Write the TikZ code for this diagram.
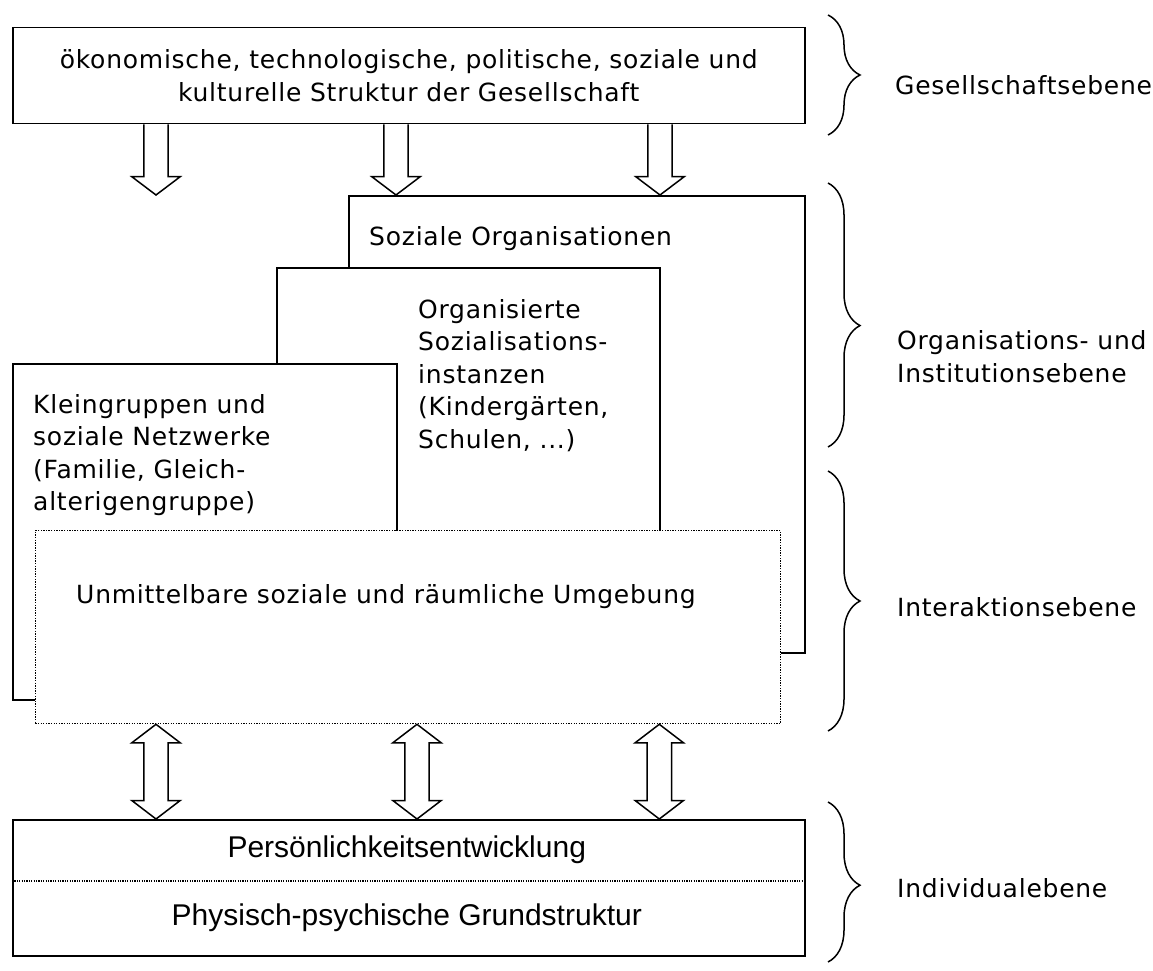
\documentclass[tikz,border=0pt]{standalone}
\usepackage{fontspec}
\setmainfont{DejaVu Sans}[LetterSpace=3]
\newfontfamily\arialfont{Liberation Sans}
\usetikzlibrary{calc,decorations.pathreplacing}
\tikzset{
	box/.style={draw,line width=1.5pt,fill=white,inner sep=0pt,anchor=north west},
	dotbox/.style={draw,line width=1.3pt,dash pattern=on 1.3pt off 1.3pt,fill=white,inner sep=0pt,anchor=north west},
	dotline/.style={line width=1.2pt,dash pattern=on 1.2pt off 1.2pt},
	txt/.style={inner sep=0pt,anchor=base west,align=left},
	mid/.style={inner sep=0pt,font=\arialfont\fontsize{30}{34}\selectfont},
	brc/.style={decorate,decoration={brace,amplitude=32pt,#1},line width=1.5pt},
	brc/.default={aspect=0.5},
	fatdown/.style={line width=1.5pt,to path={let \p1=(\tikztostart),\p2=(\tikztotarget) in
		(\x1-12.2pt,\y1) -- (\x1-12.2pt,\y2+18.3pt) -- (\x1-24.2pt,\y2+18.3pt) -- (\x1,\y2)
		-- (\x1+24.2pt,\y2+18.3pt) -- (\x1+12.2pt,\y2+18.3pt) -- (\x1+12.2pt,\y1)}},
	fatboth/.style={line width=1.5pt,line join=miter,to path={let \p1=(\tikztostart),\p2=(\tikztotarget) in
		(\x1,\y1) -- (\x1+24.2pt,\y1-18.5pt) -- (\x1+12.2pt,\y1-18.5pt) -- (\x1+12.2pt,\y2+18.5pt)
		-- (\x1+24.2pt,\y2+18.5pt) -- (\x1,\y2) -- (\x1-24.2pt,\y2+18.5pt) -- (\x1-12.2pt,\y2+18.5pt)
		-- (\x1-12.2pt,\y1-18.5pt) -- (\x1-24.2pt,\y1-18.5pt) -- cycle}}
}
\begin{document}
\begin{tikzpicture}[x=1pt,y=-1pt,font=\fontsize{25}{32.5}\selectfont]
	\useasboundingbox (0,0) rectangle (1153,971);
	\node[box,minimum width=792pt,minimum height=96pt,align=center] (gesell) at (12,27)
		{ökonomische, technologische, politische, soziale und\\kulturelle Struktur der Gesellschaft};
	\node[box,minimum width=456pt,minimum height=457pt] (soz) at (348,195) {};
	\node[box,minimum width=383pt,minimum height=300pt] (orgi) at (276,267) {};
	\node[box,minimum width=384pt,minimum height=336pt] (klein) at (12,363) {};
	\node[dotbox,minimum width=745.3pt,minimum height=193pt] (umg) at (34.7,530) {};
	\node[box,minimum width=792pt,minimum height=136pt] (indiv) at (12,819) {};
	\node[txt] (tsoz) at ($(soz.north west)+(21,50)$) {Soziale Organisationen};
	\node[txt] (torgi) at ($(orgi.north west)+(142,181)$)
		{Organisierte\\Sozialisations-\\instanzen\\(Kindergärten,\\Schulen, ...)};
	\node[txt] (tklein) at ($(klein.north west)+(21,147.5)$)
		{Kleingruppen und\\soziale Netzwerke\\(Familie, Gleich-\\alterigengruppe)};
	\node[txt] (tumg) at ($(umg.north west)+(41.3,73)$) {Unmittelbare soziale und räumliche Umgebung};
	\coordinate (sep) at ($(indiv.north west)+(0,62)$);
	\draw[dotline] (sep) -- (sep -| indiv.east);
	\node[mid] (pers) at ($(indiv.north)+(-2,31)$) {Persönlichkeitsentwicklung};
	\node[mid] (phys) at ($(indiv.north)+(-2,99)$) {Physisch-psychische Grundstruktur};
	\foreach \i/\x in {1/144,2/384,3/648}{
		\coordinate (d\i) at ($(gesell.south west)+(\x,0)$);
		\coordinate (e\i) at (soz.north -| d\i);
		\draw[fatdown] (d\i) to (e\i);
	}
	\foreach \i/\x in {1/121.3,2/382.3,3/624.6}{
		\coordinate (u\i) at ($(umg.south west)+(\x,0)$);
		\coordinate (v\i) at (indiv.north -| u\i);
		\draw[fatboth] (u\i) to (v\i);
	}
	\draw[brc] (828,15) -- (828,135);
	\draw[brc={aspect=0.54}] (828,183) -- (828,447);
	\draw[brc] (828,471) -- (828,731);
	\draw[brc={aspect=0.52}] (828,802) -- (828,962);
	\node[txt] (lgesell) at (895,95) {Gesellschaftsebene};
	\node[txt] (lorg) at (897,382) {Organisations- und\\Institutionsebene};
	\node[txt] (lint) at (897,616) {Interaktionsebene};
	\node[txt] (lind) at (897,897) {Individualebene};
\end{tikzpicture}
\end{document}
